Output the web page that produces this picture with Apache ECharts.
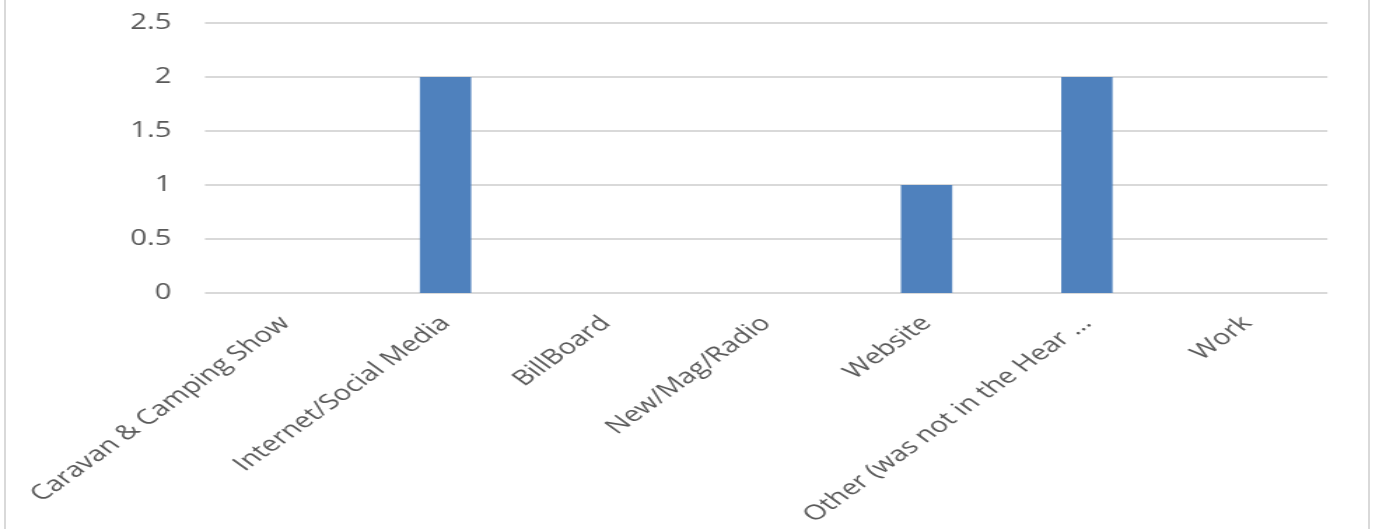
<!DOCTYPE html>
<html>
<head>
<meta charset="utf-8">
<script src="https://cdn.jsdelivr.net/npm/echarts@6/dist/echarts.min.js"></script>
<style>
  html, body { margin: 0; padding: 0; background: #fff; overflow: hidden; }
  #frame { position: absolute; left: 4px; top: 0; width: 1366px; height: 529px;
           border-left: 2px solid #d9d9d9; border-right: 2px solid #d9d9d9; box-sizing: border-box; }
  #chart { position: absolute; left: 0; top: 0; height: 529px; transform-origin: 0 0; }
</style>
</head>
<body>
<div id="frame"></div>
<div id="chart"></div>
<script>
// the source picture is stretched sideways, so draw narrower and scale x
const stretch = 1.4

const categories = [
  'Caravan & Camping Show',
  'Internet/Social Media',
  'BillBoard',
  'New/Mag/Radio',
  'Website',
  'Other (was not in the Hear …',
  'Work'
]
const counts = [0, 2, 0, 0, 1, 2, 0]
const yTicks = { min: 0, max: 2.5, interval: 0.5 }

const el = document.getElementById('chart')
el.style.width = (1373 / stretch) + 'px'
el.style.transform = 'scaleX(' + stretch + ')'

const chart = echarts.init(el)
chart.setOption({
  animation: false,
  textStyle: { fontFamily: 'Open Sans' },
  grid: {
    left: 205 / stretch,
    right: 1373 / stretch - 1327 / stretch,
    top: 23,
    bottom: 236,
    containLabel: false
  },
  xAxis: {
    type: 'category',
    data: categories,
    axisLine: { show: false },
    axisTick: { show: false },
    axisLabel: {
      rotate: 45,
      interval: 0,
      margin: 27,
      color: '#595959',
      fontSize: 21
    }
  },
  yAxis: {
    type: 'value',
    min: yTicks.min,
    max: yTicks.max,
    interval: yTicks.interval,
    axisLabel: {
      color: '#595959',
      fontSize: 21,
      margin: 24
    },
    splitLine: { lineStyle: { color: '#d9d9d9', width: 2 } }
  },
  series: [
    {
      type: 'bar',
      data: counts,
      barWidth: '32%',
      itemStyle: { color: '#4f81bd' },
      silent: true
    }
  ]
})
</script>
</body>
</html>
